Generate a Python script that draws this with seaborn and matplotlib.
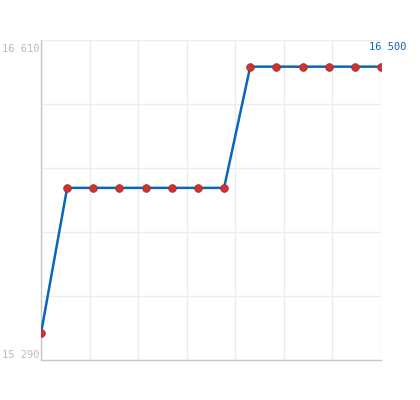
import numpy as np
import pandas as pd
import matplotlib
matplotlib.use("Agg")
import matplotlib.pyplot as plt
import seaborn as sns

# data
steps = list(range(14))
values = [15400, 16000, 16000, 16000, 16000, 16000, 16000, 16000,
          16500, 16500, 16500, 16500, 16500, 16500]
y_min, y_max = 15290, 16610

LINE = "#0a66b8"
DOT = "#cc3333"
GRID = "#ececec"
AXIS = "#c8c8c8"
LABEL = "#bbbbbb"

sns.set_theme(style="white")
plt.rcParams["font.family"] = ["DejaVu Sans Mono", "DejaVu Sans"]

df = pd.DataFrame({"step": steps, "value": values})

fig = plt.figure(figsize=(4.2, 4.0), dpi=100)
ax = fig.add_axes([41 / 420, 0.1, 340 / 420, 0.8])

sns.lineplot(data=df, x="step", y="value", ax=ax, color=LINE, linewidth=1.8,
             marker="o", markersize=5.5, markerfacecolor=DOT,
             markeredgecolor="#b02a2a", markeredgewidth=0.6, zorder=3)

ax.set_xlim(steps[0], steps[-1])
ax.set_ylim(y_min, y_max)
ax.set_xticks(np.linspace(steps[0], steps[-1], 8))
ax.set_yticks(np.linspace(y_min, y_max, 6))
ax.grid(True, color=GRID, linewidth=1)
ax.tick_params(length=0, labelleft=False, labelbottom=False)
ax.set_xlabel("")
ax.set_ylabel("")

for side in ["top", "right"]:
    ax.spines[side].set_visible(False)
for side in ["left", "bottom"]:
    ax.spines[side].set_color(AXIS)
    ax.spines[side].set_linewidth(1)

def fmt(v):
    return f"{v:,}".replace(",", " ")

ax.annotate(fmt(y_max), xy=(0, 1), xycoords="axes fraction",
            xytext=(-1, -3), textcoords="offset points",
            ha="right", va="top", fontsize=7.5, color=LABEL)
ax.annotate(fmt(y_min), xy=(0, 0), xycoords="axes fraction",
            xytext=(-1, 0), textcoords="offset points",
            ha="right", va="bottom", fontsize=7.5, color=LABEL)
ax.annotate(fmt(values[-1]), xy=(steps[-1], values[-1]),
            xytext=(5, 14), textcoords="offset points",
            ha="center", va="center", fontsize=7.5, color=LINE,
            annotation_clip=False)

fig.savefig("out.png", dpi=100)
